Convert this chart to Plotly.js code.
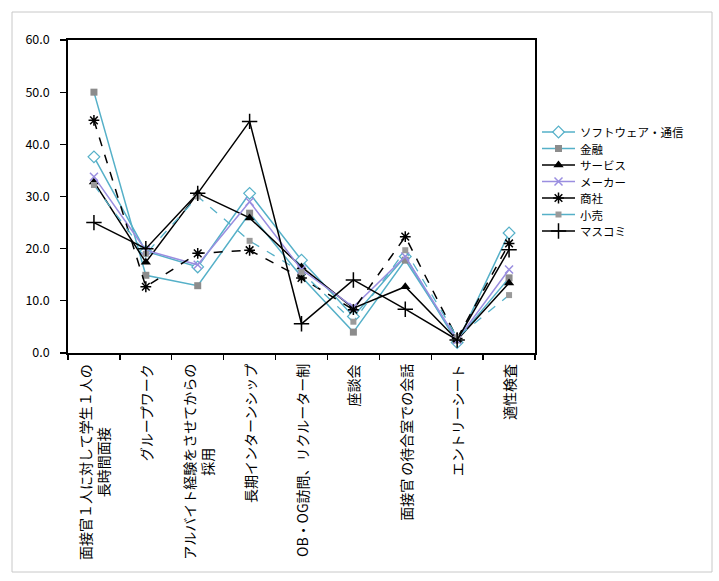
<!DOCTYPE html>
<html>
<head>
<meta charset="utf-8">
<script src="https://cdn.plot.ly/plotly-3.0.1.min.js"></script>
<style>
html,body{margin:0;padding:0;background:#fff;}
#chart{width:719px;height:581px;}
</style>
</head>
<body>
<div id="chart"></div>
<script>
const categories = [
  "面接官１人に対して学生１人の<br>長時間面接",
  "グループワーク",
  "アルバイト経験をさせてからの<br>採用",
  "長期インターンシップ",
  "OB・OG訪問、リクルーター制",
  "座談会",
  "面接官 の待合室での会話",
  "エントリーシート",
  "適性検査"
];
const seriesNames = ["ソフトウェア・通信", "金融", "サービス", "メーカー", "商社", "小売", "マスコミ"];
const software = [37.6, 19.5, 16.5, 30.6, 17.8, 7.0, 18.5, 2.0, 23.0];
const finance  = [50.0, 14.9, 12.9, 26.8, 14.6, 4.0, 17.8, 2.5, 14.4];
const service  = [32.8, 17.4, 30.6, 25.9, 16.5, 8.6, 12.7, 2.5, 13.4];
const maker    = [33.8, 19.7, 16.9, 29.0, 16.0, 8.8, 18.5, 2.5, 16.0];
const trading  = [44.6, 12.7, 19.1, 19.7, 14.4, 8.3, 22.3, 2.8, 21.0];
const retail   = [32.2, 19.0, 30.0, 21.5, 15.5, 6.0, 19.7, 3.0, 11.1];
const media    = [25.0, 20.0, 30.6, 44.4, 5.6, 14.0, 8.4, 2.5, 19.8];
const yTicks = [0, 10, 20, 30, 40, 50, 60];

const W = 719, H = 581;
const M = {l: 68, r: 10, t: 40, b: 228};
const pw = W - M.l - M.r, ph = H - M.t - M.b;
const px = v => (v - M.l) / pw;           // pixel x -> paper x
const py = v => (H - M.b - v) / ph;       // pixel y -> paper y
const LEG_TOP = 132, LEG_STEP = 16.5;

const xs = categories.map((c, i) => i);
const teal = "#55b0c8";
const purple = "#9a8ee0";
const FONT = "'Noto Sans CJK JP', 'Noto Sans', sans-serif";

const styles = [
  {line:{color:teal, width:1.5}, marker:{symbol:"diamond", size:9, color:"#ffffff", line:{color:teal, width:1.2}}},
  {line:{color:teal, width:1.5}, marker:{symbol:"square", size:7, color:"#8c8c8c", line:{color:"#8c8c8c", width:0}}},
  {line:{color:"#000000", width:1.5}, marker:{symbol:"triangle-up", size:9, color:"#000000"}},
  {line:{color:purple, width:1.5}, marker:{symbol:"x-thin-open", size:8, color:purple, line:{color:purple, width:1.5}}},
  {line:{color:"#000000", width:1.5, dash:"dash"}, marker:{symbol:"asterisk-open", size:9, color:"#000000", line:{color:"#000000", width:1.5}}},
  {line:{color:teal, width:1.3, dash:"dash"}, marker:{symbol:"square", size:6, color:"#9a9a9a", line:{width:0}}},
  {line:{color:"#000000", width:1.5}, marker:{symbol:"cross-thin-open", size:11, color:"#000000", line:{color:"#000000", width:1.5}}}
];
const values = [software, finance, service, maker, trading, retail, media];

const traces = values.map((v, k) => ({
  type: "scatter",
  mode: "lines+markers",
  name: seriesNames[k],
  x: xs, y: v,
  xaxis: "x", yaxis: "y",
  line: styles[k].line,
  marker: styles[k].marker,
  cliponaxis: false,
  showlegend: false
}));

// legend drawn on its own small axes (samples) with text annotations
seriesNames.forEach((n, k) => {
  traces.push({
    type: "scatter", mode: "lines", x: [0, 1], y: [k, k],
    xaxis: "x2", yaxis: "y2", line: Object.assign({}, styles[k].line, {dash: "solid"}),
    showlegend: false, hoverinfo: "skip", cliponaxis: false
  });
  traces.push({
    type: "scatter", mode: "markers", x: [0.5], y: [k],
    xaxis: "x2", yaxis: "y2", marker: styles[k].marker,
    showlegend: false, hoverinfo: "skip", cliponaxis: false
  });
});

const annotations = categories.map((c, i) => ({
  x: i, xref: "x",
  y: 0, yref: "paper",
  yanchor: "top", xanchor: "center",
  yshift: -9,
  text: c,
  textangle: -90,
  align: "center",
  showarrow: false,
  font: {family: FONT, size: 14, color: "#000"}
}));
seriesNames.forEach((n, k) => {
  annotations.push({
    x: 1, xref: "x2", y: k, yref: "y2",
    xanchor: "left", yanchor: "middle", xshift: 4,
    text: n, showarrow: false, borderpad: 0,
    font: {family: FONT, size: 11.5, color: "#000"}
  });
});

const layout = {
  width: W, height: H,
  margin: M,
  paper_bgcolor: "#ffffff",
  plot_bgcolor: "#ffffff",
  showlegend: false,
  xaxis: {
    domain: [0, px(535)],
    range: [-0.5, 8.5],
    tickvals: [-0.5, 0.5, 1.5, 2.5, 3.5, 4.5, 5.5, 6.5, 7.5, 8.5],
    ticktext: ["", "", "", "", "", "", "", "", "", ""],
    ticks: "outside", ticklen: 5, tickwidth: 1.3, tickcolor: "#000",
    showline: true, linecolor: "#000", linewidth: 1.8, mirror: true,
    showgrid: false, zeroline: false
  },
  yaxis: {
    domain: [0, 1],
    range: [0, 60],
    tickvals: yTicks,
    tickformat: ".1f",
    ticks: "outside", ticklen: 6, tickwidth: 1.3, tickcolor: "#000",
    ticklabelstandoff: 8,
    showline: true, linecolor: "#000", linewidth: 1.8, mirror: true,
    showgrid: false, zeroline: false,
    tickfont: {family: FONT, size: 12.5, color: "#000"}
  },
  xaxis2: {
    domain: [px(542), px(575)], range: [0, 1], anchor: "y2",
    visible: false, fixedrange: true
  },
  yaxis2: {
    domain: [py(LEG_TOP + 6.5 * LEG_STEP), py(LEG_TOP - 0.5 * LEG_STEP)], range: [6.5, -0.5], anchor: "x2",
    visible: false, fixedrange: true
  },
  annotations: annotations,
  shapes: [{
    type: "rect", xref: "paper", yref: "paper",
    x0: px(12), x1: px(712), y0: py(572), y1: py(12),
    line: {color: "#c8c8c8", width: 1}, fillcolor: "rgba(0,0,0,0)", layer: "below"
  }]
};

Plotly.newPlot("chart", traces, layout, {staticPlot: true, displayModeBar: false});
</script>
</body>
</html>
